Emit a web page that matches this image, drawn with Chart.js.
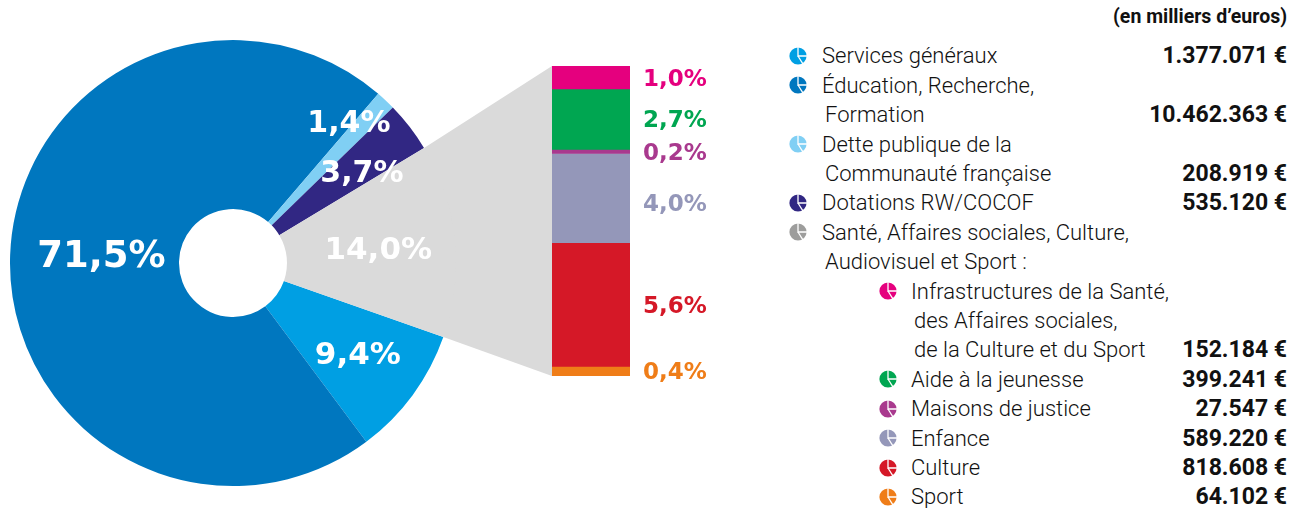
<!DOCTYPE html>
<html>
<head>
<meta charset="utf-8">
<script src="https://cdn.jsdelivr.net/npm/chart.js@4.4.1/dist/chart.umd.min.js"></script>
<style>
  html, body { margin:0; padding:0; background:#fff; }
  body { width:1292px; height:508px; position:relative; overflow:hidden; font-family:Roboto, "Noto Sans", sans-serif; color:#1d1d1b; }
  #pieBox { position:absolute; left:0; top:0; width:552px; height:508px; }
  #barBox { position:absolute; left:552px; top:0; width:200px; height:508px; }
  .line { position:absolute; height:29.4px; line-height:29.4px; font-size:22px; font-weight:300; color:#111; white-space:nowrap; }
  .val { position:absolute; right:5px; height:29.4px; line-height:29.4px; font-size:23px; font-weight:700; color:#111; white-space:nowrap; }
  .icon { position:absolute; width:18px; height:18px; }
  .icon svg { display:block; }
  #unit { position:absolute; right:5px; top:5px; font-size:19.5px; font-weight:700; color:#111; }
</style>
</head>
<body>
<div id="pieBox"><canvas id="pie"></canvas></div>
<div id="barBox"><canvas id="bar"></canvas></div>
<div id="unit">(en milliers d’euros)</div>
<div id="legend"></div>
<script>
(function(){
  // ---------- data ----------
  const mainLabels = [
    ["Services généraux"],
    ["Éducation, Recherche,", "Formation"],
    ["Dette publique de la", "Communauté française"],
    ["Dotations RW/COCOF"],
    ["Santé, Affaires sociales, Culture,", "Audiovisuel et Sport :"]
  ];
  const mainValues = [1377071, 10462363, 208919, 535120, 2050902];
  const mainColors = ["#009FE3", "#0077BF", "#80CFF4", "#312783", "#DADADA"];
  const mainIconColors = ["#009FE3", "#0077BF", "#80CFF4", "#312783", "#9D9D9C"];

  const subLabels = [
    ["Infrastructures de la Santé,", "des Affaires sociales,", "de la Culture et du Sport"],
    ["Aide à la jeunesse"],
    ["Maisons de justice"],
    ["Enfance"],
    ["Culture"],
    ["Sport"]
  ];
  const subValues = [152184, 399241, 27547, 589220, 818608, 64102];
  const subColors = ["#E5007E", "#00A651", "#A9398E", "#9497B9", "#D51827", "#EF7D18"];

  // label placement (pie: radius px / angle shift deg, bar: y shift px)
  const pieLabelR = [154, 132, 183, 158, 146];
  const pieLabelDA = [-0.5, 2.3, -3.9, 2.3, 0];
  const pieLabelSize = [31, 37, 30, 30, 31];
  const barLabelDY = [0, 0, 0, 5, 0, 0];

  const total = mainValues.reduce((a,b)=>a+b, 0);
  const subTotal = subValues.reduce((a,b)=>a+b, 0);
  const pct = v => (v / total * 100).toFixed(1).replace(".", ",") + "%";
  const euros = v => String(v).replace(/\B(?=(\d{3})+(?!\d))/g, ".") + " €";
  const PCT_FONT = '"DejaVu Sans", sans-serif';

  // ---------- bar ----------
  const barLabels = {
    id: "barLabels",
    afterDatasetsDraw(chart){
      const ctx = chart.ctx;
      ctx.save();
      chart.data.datasets.forEach((ds, i)=>{
        const el = chart.getDatasetMeta(i).data[0];
        const cy = (el.y + el.base) / 2 + barLabelDY[i];
        const size = 23;
        ctx.font = `bold ${size}px ${PCT_FONT}`;
        ctx.fillStyle = subColors[i];
        ctx.textAlign = "left";
        ctx.textBaseline = "alphabetic";
        ctx.fillText(pct(subValues[i]), el.x + el.width/2 + 13, cy + size*0.36);
      });
      ctx.restore();
    }
  };

  const barChart = new Chart(document.getElementById("bar"), {
    type: "bar",
    data: {
      labels: ["Santé"],
      datasets: subValues.map((v, i)=>({
        label: subLabels[i].join(" "),
        data: [v],
        backgroundColor: subColors[i],
        borderWidth: 0,
        barPercentage: 1,
        categoryPercentage: 1
      }))
    },
    options: {
      responsive: true,
      maintainAspectRatio: false,
      animation: false,
      layout: { padding: { top: 66, bottom: 132, left: 0, right: 122 } },
      plugins: { legend: { display: false }, tooltip: { enabled: false } },
      scales: {
        x: { display: false, stacked: true },
        y: { display: false, stacked: true, reverse: true, min: 0, max: subTotal }
      }
    },
    plugins: [barLabels]
  });

  // ---------- pie ----------
  const connector = {
    id: "connector",
    beforeDatasetsDraw(chart){
      const arc = chart.getDatasetMeta(0).data[4];
      const p = arc.getProps(["x", "y", "outerRadius", "startAngle", "endAngle"]);
      const b = barChart.chartArea;
      const dx = barChart.canvas.getBoundingClientRect().left - chart.canvas.getBoundingClientRect().left;
      const ctx = chart.ctx;
      ctx.save();
      ctx.fillStyle = mainColors[4];
      ctx.beginPath();
      ctx.moveTo(p.x + p.outerRadius*Math.cos(p.startAngle), p.y + p.outerRadius*Math.sin(p.startAngle));
      ctx.lineTo(dx + b.left, b.top);
      ctx.lineTo(dx + b.left, b.bottom);
      ctx.lineTo(p.x + p.outerRadius*Math.cos(p.endAngle), p.y + p.outerRadius*Math.sin(p.endAngle));
      ctx.closePath();
      ctx.fill();
      ctx.restore();
    }
  };

  const pieLabels = {
    id: "pieLabels",
    afterDatasetsDraw(chart){
      const ctx = chart.ctx;
      ctx.save();
      chart.getDatasetMeta(0).data.forEach((arc, i)=>{
        const p = arc.getProps(["x", "y", "startAngle", "endAngle"]);
        const a = (p.startAngle + p.endAngle)/2 + pieLabelDA[i]*Math.PI/180;
        const x = p.x + pieLabelR[i]*Math.cos(a);
        const y = p.y + pieLabelR[i]*Math.sin(a);
        const size = pieLabelSize[i];
        ctx.font = `bold ${size}px ${PCT_FONT}`;
        ctx.fillStyle = "#fff";
        ctx.textAlign = "center";
        ctx.textBaseline = "alphabetic";
        ctx.fillText(pct(mainValues[i]), x, y + size*0.36);
      });
      ctx.restore();
    }
  };

  new Chart(document.getElementById("pie"), {
    type: "doughnut",
    data: {
      labels: mainLabels.map(l=>l.join(" ")),
      datasets: [{ data: mainValues, backgroundColor: mainColors, borderWidth: 0, hoverOffset: 0 }]
    },
    options: {
      responsive: true,
      maintainAspectRatio: false,
      animation: false,
      rotation: 109.4,
      cutout: 54,
      layout: { padding: { left: 10, top: 40, right: 96, bottom: 22 } },
      plugins: { legend: { display: false }, tooltip: { enabled: false } }
    },
    plugins: [connector, pieLabels]
  });

  // ---------- legend ----------
  function pt(a, r){
    const t = a*Math.PI/180;
    return `${(9 + r*Math.cos(t)).toFixed(2)},${(9 + r*Math.sin(t)).toFixed(2)}`;
  }
  function icon(color){
    return `<svg width="18" height="18" viewBox="0 0 18 18">
      <circle cx="9" cy="9" r="8.6" fill="${color}"/>
      <polyline points="${pt(-90, 9.5)} 9,9 ${pt(0, 9.5)}" fill="none" stroke="#fff" stroke-width="1.3"/>
      <line x1="9" y1="9" x2="${pt(58, 9.5).split(",")[0]}" y2="${pt(58, 9.5).split(",")[1]}" stroke="#fff" stroke-width="1.3"/>
    </svg>`;
  }

  const legend = document.getElementById("legend");
  const LINE0 = 56, STEP = 29.4;
  let row = 0;
  function addItem(lines, color, value, iconX, textX){
    const top0 = LINE0 + row*STEP - STEP/2;
    const ic = document.createElement("div");
    ic.className = "icon";
    ic.style.left = iconX + "px";
    ic.style.top = (top0 + (STEP - 18)/2) + "px";
    ic.innerHTML = icon(color);
    legend.appendChild(ic);
    lines.forEach((txt, j)=>{
      const d = document.createElement("div");
      d.className = "line";
      d.style.left = (textX + (j ? 3 : 0)) + "px";
      d.style.top = (LINE0 + row*STEP - STEP/2) + "px";
      d.textContent = txt;
      legend.appendChild(d);
      if(j === lines.length - 1 && value != null){
        const v = document.createElement("div");
        v.className = "val";
        v.style.top = d.style.top;
        v.textContent = euros(value);
        legend.appendChild(v);
      }
      row++;
    });
  }

  mainLabels.forEach((l, i)=>{
    addItem(l, mainIconColors[i], i === 4 ? null : mainValues[i], 789, 822);
  });
  subLabels.forEach((l, i)=>{
    addItem(l, subColors[i], subValues[i], 879, 911);
  });
})();
</script>
</body>
</html>
